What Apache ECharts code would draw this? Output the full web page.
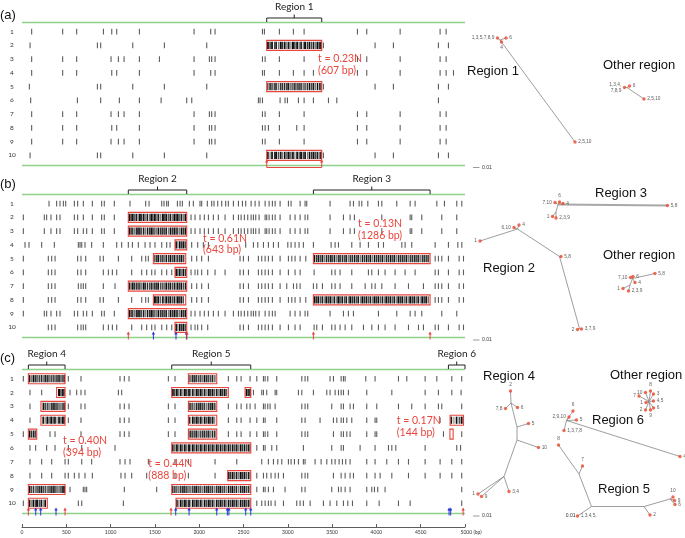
<!DOCTYPE html>
<html><head><meta charset="utf-8">
<script src="https://cdn.jsdelivr.net/npm/echarts@6/dist/echarts.min.js"></script>
<style>html,body{margin:0;padding:0;background:#fff}#c{width:685px;height:538px}</style>
</head><body><div id="c"></div>
<script>
// ---------------- DATA ----------------
const rowLabels = [1,2,3,4,5,6,7,8,9,10];
const scaleTicks = [0,500,1000,1500,2000,2500,3000,3500,4000,4500,5000];

// variant positions (bp) per sequence, panel (a)
const seqA = [
 [109,459,617,919,1013,1069,1325,1942,2130,2179,2714,2736,2905,3063,3184,3786,3891,4268,4719,4787],
 [91,851,888,1250,1607,2085,3402,3985,4192,4700,4813],
 [109,459,617,1005,1088,1152,1325,1551,1942,2115,2141,2179,2714,2744,2905,3184,3786,3891,4268,4719,4787],
 [109,459,617,1013,1069,1325,1942,2130,2179,2714,2736,2905,3063,3184,3289,3786,3891,4268,4719,4787,4870],
 [83,851,888,1250,1607,2085,3402,3985,4192,4700,4813],
 [98,625,888,1099,1325,1570,1859,1916,2668,2687,2714,2913,2969,2996,3120,3184,3289,3459,3553,4700],
 [109,459,617,1005,1088,1152,1325,1942,2115,2141,2179,2714,2744,2905,3184,3786,3891,4268,4719,4787],
 [109,459,617,1013,1069,1325,1942,2115,2141,2179,2714,2744,2781,2905,3101,3184,3786,3891,4268,4719,4787],
 [109,459,617,1005,1088,1152,1325,1942,2115,2141,2179,2714,2744,2905,3184,3786,3891,4268,4719,4787],
 [91,851,888,1250,1607,2085,3402,3985,4192,4700,4813]
];
// panel (b)
const seqB = [
 [305,391,429,467,493,591,628,692,794,899,929,1042,1219,1396,1434,1577,1603,1633,1652,1754,1784,1810,1889,1934,2009,2028,2092,2141,2167,2209,2254,2299,2329,2386,2443,2488,2525,2586,2631,2676,2744,2789,2826,2857,2913,3007,3037,3139,3195,3214,3477,3703,3741,3805,3835,3903,4023,4061,4230,4381,4437,4682,4768,4907,4964],
 [15,252,278,327,391,429,591,628,692,794,899,929,1042,1908,1953,2009,2058,2104,2160,2216,2292,2386,2443,2473,2510,2548,2586,2612,2638,2676,2744,2762,2789,2826,2857,2913,3026,3082,3139,3195,3225,3477,3628,3703,3752,4061,4381,4399,4512,4738,4907],
 [15,252,327,391,429,591,628,692,730,794,899,929,1042,1908,1953,2009,2058,2104,2160,2216,2292,2386,2443,2473,2510,2548,2586,2612,2638,2676,2744,2762,2789,2826,2857,2913,3026,3082,3139,3195,3225,3477,3628,3703,3752,4061,4381,4399,4512,4738,4907],
 [34,79,222,365,636,655,674,711,786,918,1069,1125,1200,1246,1313,1389,1445,1501,1577,1633,1671,1915,1983,2047,2104,2525,2612,2661,2725,2781,2838,2894,3000,3037,3082,3127,3176,3289,3489,3534,3572,3722,3816,3910,4023,4080,4287,4324,4399,4663,4813,4919,4964],
 [15,297,335,373,628,666,719,881,918,1088,1238,1351,1396,1426,1915,1972,2028,2104,2461,2499,2556,2668,2706,2744,2781,2826,2913,3007,3045,3082,3139,3203,4663,4700,4738,4813,4934,4983],
 [15,297,335,373,628,666,719,918,975,1020,1069,1238,1351,1407,1464,1501,1577,1633,1690,1908,1953,1983,2028,2096,2179,2292,2461,2499,2556,2668,2706,2744,2781,2826,2913,3007,3082,3139,3297,3496,3534,3590,3722,3910,3948,4023,4098,4211,4324,4437,4663,4700,4813,4934,4983],
 [15,297,335,373,636,666,692,719,918,1050,1915,1972,2028,2104,2461,2499,2556,2668,2706,2744,2781,2826,2913,2988,3064,3101,3139,3289,3327,3391,3496,3534,3590,3722,3873,3948,3986,4061,4211,4362,4531,4663,4700,4738,4813,4934,4983],
 [15,297,335,373,628,666,719,881,918,1088,1238,1351,1396,1426,1915,1972,2028,2104,2461,2499,2556,2668,2706,2744,2781,2826,2913,3007,3045,3082,3139,3203,4663,4700,4738,4813,4934,4983],
 [15,252,278,327,391,429,591,628,692,730,794,899,929,1042,1908,1953,2009,2058,2104,2160,2216,2292,2386,2443,2473,2510,2548,2586,2612,2638,2676,2744,2789,2826,2857,3026,3082,3139,3195,3225,3477,3628,3684,3741,4023,4230,4381,4437,4512,4738,4907],
 [297,335,373,628,666,692,719,918,975,1020,1069,1238,1351,1407,1464,1501,1577,1633,1690,1908,1953,1983,2028,2096,2461,2499,2556,2668,2706,2744,2781,2826,2913,3007,3082,3139,3297,3327,3391,3496,3534,3590,3647,3722,3854,3948,4023,4098,4211,4362,4475,4531,4663,4700,4813,4934,4983]
];
// panel (c)
const seqC = [
 [15,523,666,1106,1155,1208,1652,1727,2329,2424,2473,2574,2650,2725,2744,2774,2875,3158,3195,3225,3477,3515,3602,3628,3647,3880,3985,4249,4343,4550,4682,4851,4963],
 [90,222,542,617,666,711,1088,1125,2612,2706,2725,2762,2857,2875,3120,3158,3289,3440,3477,3534,3572,3602,3628,3684,3891,4174,4550,4700,4851,4956],
 [90,523,666,711,1106,1155,1208,1652,1727,2329,2424,2473,2537,2574,2631,2725,2744,2774,2800,2857,3158,3195,3225,3496,3602,3628,3703,3741,3891,4004,4249,4399,4550,4700,4738,4963],
 [90,523,666,1106,1155,1208,1652,1727,2329,2424,2473,2574,2650,2725,2744,2875,3158,3195,3364,3515,3553,3602,3628,3666,3722,3891,3985,4004,4719],
 [15,316,373,666,1106,1155,1208,1652,1727,2329,2424,2473,2574,2650,2725,2744,2774,2875,3158,3195,3225,3515,3602,3628,3666,3703,3891,3985,4004,4757,4963],
 [90,154,278,373,523,674,1050,2650,2725,2744,2819,2875,3176,3496,3602,3628,3816,3985,4136,4174,4219,4550,4907,4950],
 [90,222,335,486,523,674,786,1106,1163,1219,1426,1727,1878,2179,2424,2706,2781,2838,2887,2932,3007,3037,3075,3120,3176,3195,3308,3376,3440,3496,3534,3579,3617,3654,3703,3891,3985,4117,4249,4362,4550,4719,4851,4963],
 [90,222,335,486,523,591,643,711,794,1117,1163,1238,1407,1727,1878,2179,2650,2725,2762,2811,2857,2894,2951,3158,3195,3225,3515,3602,3647,3703,3741,3891,3985,4042,4174,4362,4550,4719,4851,4963],
 [542,692,711,730,1155,1520,2650,2725,2744,2781,2838,2969,3158,3195,3496,3572,3602,3647,3703,3891,3948,3978,4015,4098,4963],
 [15,636,674,1144,2650,2706,2744,2781,2811,2857,2951,3101,3139,3176,3252,3402,3477,3553,3628,3677,3730,3891,4031,4249,4381,4963]
];

// dense variant positions inside recombinant regions
const denseA = [2775,2800,2822,2850,2868,2895,2920,2940,2965,2990,3010,3035,3058,3080,3105,3128,3150,3175,3195,3222,3245,3268,3290,3312,3335,3358,3375];
const denseB = [1212,1232,1250,1268,1290,1310,1330,1348,1372,1390,1415,1440,1460,1478,1500,1522,1540,1565,1590,1612,1630,1655,1675,1698,1720,1740,1758,1780,1800,1822,1845,
 3302,3325,3345,3368,3390,3412,3435,3458,3480,3500,3525,3548,3570,3590,3615,3640,3660,3685,3705,3728,3752,3775,3795,3820,3842,3865,3888,3910,3932,3955,3978,4000,4022,4045,4068,4090,4112,4135,4158,4180,4202,4225,4248,4270,4292,4315,4338,4360,4382,4405,4428,4450,4472,4495,4518,4540,4562,4585];
const denseC = [85,105,128,150,170,195,218,240,262,285,305,330,352,372,395,418,440,462,478,
 1702,1725,1748,1770,1792,1815,1838,1860,1885,1905,1928,1950,1972,1995,2018,2040,2062,2085,2108,2130,2152,2175,2198,2220,2242,2265,2288,2310,2332,2355,2378,2400,2422,2445,2468,2490,2512,2535,2558,2575,
 4845,4875,4905,4935,4962];

// boxes: [start bp, end bp, sequence, hollow]
const boxesA = [[2762,3383,2,0],[2762,3383,5,0],[2762,3383,10,0]];
const boxesB = [[1200,1859,2,0],[1200,1859,3,0],[1727,1859,4,0],[1483,1848,5,0],[1727,1859,6,0],[1200,1859,7,0],[1483,1848,8,0],[1200,1859,9,0],[1727,1859,10,0],[3289,4606,5,0],[3289,4606,8,0]];
const boxesC = [[72,486,1,0],[1878,2198,1,0],[391,486,2,0],[1690,2329,2,0],[2518,2582,2,0],[214,486,3,0],[1878,2198,3,0],[214,486,4,0],[1878,2198,4,0],[4832,4983,4,0],[72,166,5,0],[1878,2198,5,0],[4830,4866,5,1],[1690,2582,6,0],[2322,2582,8,0],[72,486,9,0],[1690,2582,9,0],[72,286,10,0],[1738,2582,10,0]];

// region brackets
const bracketsA = [['Region 1',2762,3383]];
const bracketsB = [['Region 2',1200,1859],['Region 3',3289,4606]];
const bracketsC = [['Region 4',72,486],['Region 5',1690,2582],['Region 6',4813,5000]];

// breakpoint arrows [bp, 0=red 1=blue]
const arrowsA = [[2762,0],[3383,0]];
const linksA = [[2762,3383]];
const arrowsB = [[1200,0],[1483,1],[1738,1],[1856,1],[1862,0],[3289,0],[4606,0]];
const arrowsC = [[72,0],[155,1],[211,1],[384,1],[486,0],[1682,0],[1735,1],[1886,1],[2198,1],[2318,1],[2335,1],[2525,1],[2582,1],[4820,1],[4838,1],[4979,0]];

// annotations [text, bp, row]
const notesA = [['t = 0.23N',3342,2.95],['(607 bp)',3342,3.8]];
const notesB = [['t = 0.61N',2043,3.57],['(643 bp)',2043,4.37],['t = 0.13N',3793,2.48],['(1286 bp)',3793,3.36]];
const notesC = [['t = 0.40N',463,5.47],['(394 bp)',463,6.34],['t = 0.44N',1426,7.14],['(888 bp)',1426,8.01],['t = 0.17N',4230,4.0],['(144 bp)',4230,4.88]];

// trees: nodes [id, x, y, label, labelPosition] in tree layout units
const treeNodes = [
 ['a_j',60,40,'',''],['a_1',57.5,38,'1,3,5,7,8,9','left'],['a_6',66,38,'6','right'],['a_4',61.5,42,'4','bottom'],['a_2',135,142,'2,5,10','right'],
 ['oa_j',187,87.5,'',''],['oa_1',184.5,87.5,'1,3,4,\n7,8,9','left'],['oa_6',189.5,86,'6','right'],['oa_2',204,99,'2,5,10','right'],
 ['r3_j',118,204.5,'',''],['r3_710',115,202.5,'7,10','left'],['r3_6',119.5,202,'6','top'],['r3_4',123,203.5,'4','right'],['r3_58',227.5,205.5,'5,8','right'],['r3_k',116,212,'',''],['r3_1',112.5,216.5,'1','left'],['r3_239',116,218,'2,3,9','right'],
 ['r2_1',40,241,'1','left'],['r2_j',77.5,229,'',''],['r2_610',74,227.5,'6,10','left'],['r2_4',79,225,'4','right'],['r2_k',119.5,256.5,'',''],['r2_58',121,256.5,'5,8','right'],['r2_m',139.5,328.5,'',''],['r2_2',137.5,329.5,'2','left'],['r2_379',141.5,329,'3,7,9','right'],
 ['ob_j',192.5,278.5,'',''],['ob_710',190.5,277.5,'7,10','left'],['ob_6',193,276.5,'6','right'],['ob_58',215,273.5,'5,8','right'],['ob_4',195,282.5,'4','right'],['ob_k',190,285,'',''],['ob_1',183,288.5,'1','left'],['ob_239',188.5,291,'2,3,9','right'],
 ['r4_2',70.5,391,'2','top'],['r4_a',71,403,'',''],['r4_78',65.5,408.5,'7,8','left'],['r4_6',77.5,407.5,'6','right'],['r4_b',77,427,'',''],['r4_5',88.5,423.5,'5','right'],['r4_c',77,440,'',''],['r4_10',98.5,447.5,'10','right'],['r4_d',64,476.5,'',''],['r4_34',69,491.5,'3,4','right'],['r4_1',38,494,'1','left'],['r4_9',41.5,496.5,'9','right'],
 ['oc_j',209,401.5,'',''],['oc_8',210.5,391,'8','top'],['oc_3',213.5,394,'3','right'],['oc_10',205.5,392.5,'10','left'],['oc_7',199,396,'7','left'],['oc_45',213.5,401,'4,5','right'],['oc_1',206,402.5,'1','left'],['oc_6',213.5,408,'6','right'],['oc_2',205.5,410,'2','left'],['oc_9',210.5,410,'9','bottom'],
 ['r6_j',126.5,420.5,'',''],['r6_2910',129,417,'2,9,10','left'],['r6_6',133,411,'6','top'],['r6_5',136.5,420,'5','right'],['r6_1378',124,430.5,'1,3,7,8','right'],['r6_4',240,456.5,'4','right'],
 ['r5_8',118.5,445,'8','top'],['r5_7',142.5,466,'7','top'],['r5_e',139,474,'',''],['r5_f',151.5,506.5,'',''],['r5_1345',137.5,516,'1,3,4,5,','right'],['r5_g',204,506.5,'',''],['r5_2',210,515,'2','right'],['r5_h',230,499,'',''],['r5_10',233,497,'10','top'],['r5_9',234.5,500.5,'9','right'],['r5_6',235,504.5,'6','right']
];
const treeEdges = [
 ['a_j','a_1'],['a_j','a_6'],['a_j','a_4'],['a_j','a_2'],
 ['oa_j','oa_1'],['oa_j','oa_6'],['oa_j','oa_2'],
 ['r3_j','r3_710'],['r3_j','r3_6'],['r3_j','r3_4'],['r3_j','r3_58'],['r3_j','r3_k'],['r3_k','r3_1'],['r3_k','r3_239'],
 ['r2_1','r2_j'],['r2_j','r2_610'],['r2_j','r2_4'],['r2_j','r2_k'],['r2_k','r2_58'],['r2_k','r2_m'],['r2_m','r2_2'],['r2_m','r2_379'],
 ['ob_j','ob_710'],['ob_j','ob_6'],['ob_j','ob_58'],['ob_j','ob_4'],['ob_j','ob_k'],['ob_k','ob_1'],['ob_k','ob_239'],
 ['r4_2','r4_a'],['r4_a','r4_78'],['r4_a','r4_6'],['r4_a','r4_b'],['r4_b','r4_5'],['r4_b','r4_c'],['r4_c','r4_10'],['r4_c','r4_d'],['r4_d','r4_34'],['r4_d','r4_1'],['r4_d','r4_9'],
 ['oc_j','oc_8'],['oc_j','oc_3'],['oc_j','oc_10'],['oc_j','oc_7'],['oc_j','oc_45'],['oc_j','oc_1'],['oc_j','oc_6'],['oc_j','oc_2'],['oc_j','oc_9'],
 ['r6_j','r6_2910'],['r6_j','r6_6'],['r6_j','r6_5'],['r6_j','r6_1378'],['r6_j','r6_4'],
 ['r5_8','r5_e'],['r5_7','r5_e'],['r5_e','r5_f'],['r5_f','r5_1345'],['r5_f','r5_g'],['r5_g','r5_2'],['r5_g','r5_h'],['r5_h','r5_10'],['r5_h','r5_9'],['r5_h','r5_6']
];
const treeTitles = [['Region 1',27,71],['Other region',163,65],['Region 3',155,193],['Region 2',43,268],['Other region',163,255.5],['Region 4',43,376.5],['Other region',170,375.5],['Region 6',152,420.5],['Region 5',158,489]];
const treeScaleBars = [[33,167.5],[33,340],[33,516]];
const treeSmallTexts = [['0.01',135.5,516]];

// ---------------- CHART ----------------
const RED = '#e8453c', BLUE = '#2636d6', GREEN = '#8fd08a', NODE = '#e9482d';
const LEFTFONT = 'Lato, "Liberation Sans", sans-serif';
const TREEFONT = '"Liberation Sans", Arial, sans-serif';
const DENSE_W = [1.7, 1.2, 2.0, 1.4, 1.8, 1.1];
const DENSE_C = ['#111', '#4a4a4a', '#1a1a1a', '#7a7a7a', '#0c0c0c', '#333'];
const chart = echarts.init(document.getElementById('c'));

const panels = [
 {seq:seqA, boxes:boxesA, dense:denseA, brackets:bracketsA, arrows:arrowsA, links:linksA, notes:notesA, top:22, h:143},
 {seq:seqB, boxes:boxesB, dense:denseB, brackets:bracketsB, arrows:arrowsB, links:[], notes:notesB, top:194, h:143},
 {seq:seqC, boxes:boxesC, dense:denseC, brackets:bracketsC, arrows:arrowsC, links:[], notes:notesC, top:369, h:144}
];
const grid = [], xAxis = [], yAxis = [], series = [];
const YMIN = 0.3, YMAX = 10.7;

panels.forEach((P, i) => {
  grid.push({left:22, width:443, top:P.top, height:P.h});
  const xb = xAxis.length;
  xAxis.push({gridIndex:i, type:'value', min:0, max:5000, position:'bottom', show:false});
  yAxis.push({gridIndex:i, type:'value', min:YMIN, max:YMAX, inverse:true,
    axisLine:{show:false}, axisTick:{show:false}, splitLine:{show:false},
    axisLabel:{show:true, customValues:rowLabels, fontSize:6.5, color:'#333', margin:10, align:'center', fontFamily:LEFTFONT}});
  const axisRef = {xAxisIndex:xb, yAxisIndex:i};

  // green frame lines (top and bottom of panel)
  series.push(Object.assign({type:'custom', data:[[0,5000,YMIN],[0,5000,YMAX]], silent:true, z:10, clip:false,
    renderItem:(params, api) => {
      const a = api.coord([api.value(0), api.value(2)]), b = api.coord([api.value(1), api.value(2)]);
      return {type:'rect', shape:{x:a[0], y:a[1]-0.2, width:b[0]-a[0], height:1.4}, style:{fill:GREEN}};
    }}, axisRef));

  // variant ticks
  const tickData = [];
  P.seq.forEach((row, r) => row.forEach(v => tickData.push([v, r+1])));
  series.push(Object.assign({type:'custom', data:tickData, silent:true, z:2,
    renderItem:(params, api) => {
      const p = api.coord([api.value(0), api.value(1)]);
      return {type:'rect', shape:{x:p[0]-0.55, y:p[1]-2.8, width:1.1, height:5.6}, style:{fill:'#5c5c5c'}};
    }}, axisRef));

  // recombinant boxes with dense variants
  series.push(Object.assign({type:'custom', data:P.boxes, silent:true, z:3,
    renderItem:(params, api) => {
      const x1 = api.value(0), x2 = api.value(1), r = api.value(2), hollow = api.value(3);
      const p1 = api.coord([x1, r]), p2 = api.coord([x2, r]);
      const ch = [{type:'rect', shape:{x:p1[0], y:p1[1]-5, width:p2[0]-p1[0], height:10}, style:{fill:'#fff'}}];
      if (!hollow) {
        P.dense.filter(d => d > x1 + 5 && d < x2 - 5).forEach((d, k) => {
          const p = api.coord([d, r]);
          const w = DENSE_W[(k + r) % DENSE_W.length];
          ch.push({type:'rect', shape:{x:p[0]-w/2, y:p1[1]-3.6, width:w, height:7.2}, style:{fill:DENSE_C[(k + 2*r) % DENSE_C.length]}});
        });
      }
      ch.push({type:'rect', shape:{x:p1[0], y:p1[1]-5, width:p2[0]-p1[0], height:10}, style:{fill:'none', stroke:RED, lineWidth:1.1}});
      return {type:'group', children:ch};
    }}, axisRef));

  // region brackets
  series.push(Object.assign({type:'custom', data:P.brackets.map(b => [b[1], b[2]]), silent:true, z:11, clip:false,
    renderItem:(params, api) => {
      const a = api.coord([api.value(0), YMIN]), b = api.coord([api.value(1), YMIN]);
      const y0 = a[1], xm = (a[0]+b[0])/2;
      return {type:'group', children:[
        {type:'polyline', shape:{points:[[a[0],y0],[a[0],y0-4],[b[0],y0-4],[b[0],y0]]}, style:{stroke:'#222', lineWidth:1, fill:null}},
        {type:'line', shape:{x1:xm, y1:y0-4, x2:xm, y2:y0-7.5}, style:{stroke:'#222', lineWidth:1}},
        {type:'text', style:{text:P.brackets[params.dataIndex][0], x:xm, y:y0-15.5, textAlign:'center', textVerticalAlign:'middle', font:'10px '+LEFTFONT, fill:'#222'}}
      ]};
    }}, axisRef));

  // breakpoint arrows
  series.push(Object.assign({type:'custom', data:P.arrows, silent:true, z:12, clip:false,
    renderItem:(params, api) => {
      const p = api.coord([api.value(0), YMAX]);
      const col = api.value(1) === 1 ? BLUE : RED;
      const x = p[0], y = p[1];
      return {type:'group', children:[
        {type:'line', shape:{x1:x, y1:y+2.5, x2:x, y2:y-3}, style:{stroke:col, lineWidth:1}},
        {type:'polygon', shape:{points:[[x,y-5.5],[x-1.7,y-2.5],[x+1.7,y-2.5]]}, style:{fill:col}}
      ]};
    }}, axisRef));
  if (P.links.length) {
    series.push(Object.assign({type:'custom', data:P.links, silent:true, z:12, clip:false,
      renderItem:(params, api) => {
        const a = api.coord([api.value(0), YMAX]), b = api.coord([api.value(1), YMAX]);
        return {type:'line', shape:{x1:a[0], y1:a[1]+2.5, x2:b[0], y2:b[1]+2.5}, style:{stroke:RED, lineWidth:1}};
      }}, axisRef));
  }

  // red annotations
  series.push(Object.assign({type:'custom', data:P.notes.map(n => [n[1], n[2]]), silent:true, z:13, clip:false,
    renderItem:(params, api) => {
      const p = api.coord([api.value(0), api.value(1)]);
      return {type:'text', style:{text:P.notes[params.dataIndex][0], x:p[0], y:p[1], textAlign:'left', textVerticalAlign:'middle', font:'10.5px '+LEFTFONT, fill:RED}};
    }}, axisRef));
});

// bottom bp scale axis (under panel c)
xAxis.push({gridIndex:2, type:'value', min:0, max:5000, interval:500, position:'bottom', offset:14,
  axisLine:{show:true, onZero:false, lineStyle:{color:'#333', width:0.8}},
  axisTick:{show:true, inside:true, length:3, lineStyle:{color:'#333', width:0.8}},
  splitLine:{show:false},
  axisLabel:{show:true, fontSize:5, color:'#333', margin:3, fontFamily:LEFTFONT,
    customValues:scaleTicks,
    formatter:v => v === 5000 ? '{p|}5000 (bp)' : String(v),
    rich:{p:{width:12}}}});

// tree area
const TG = grid.length;
grid.push({left:440, top:0, width:245, height:538});
const txi = xAxis.length;
xAxis.push({gridIndex:TG, type:'value', min:0, max:245, show:false});
yAxis.push({gridIndex:TG, type:'value', min:0, max:538, inverse:true, show:false});
const tref = {xAxisIndex:txi, yAxisIndex:TG};
const nodeMap = {};
treeNodes.forEach(n => nodeMap[n[0]] = n);

series.push(Object.assign({type:'custom', silent:true, z:7, clip:false,
  data:treeEdges.map(e => [nodeMap[e[0]][1], nodeMap[e[0]][2], nodeMap[e[1]][1], nodeMap[e[1]][2]]),
  renderItem:(params, api) => {
    const a = api.coord([api.value(0), api.value(1)]), b = api.coord([api.value(2), api.value(3)]);
    const thick = treeEdges[params.dataIndex][1] === 'r3_58';
    return {type:'line', shape:{x1:a[0], y1:a[1], x2:b[0], y2:b[1]}, style:{stroke: thick ? '#a8a8a8' : '#858585', lineWidth: thick ? 2 : 0.8}};
  }}, tref));

series.push(Object.assign({type:'scatter', silent:true, z:8, symbol:'circle', symbolSize:3.4,
  itemStyle:{color:NODE},
  label:{show:true, formatter:'{b}', fontSize:4.8, color:'#333', distance:1.5, fontFamily:TREEFONT, lineHeight:5.5},
  data:treeNodes.filter(n => n[3] !== '').map(n => ({name:n[3], value:[n[1], n[2]], label:{position:n[4]}}))}, tref));

series.push(Object.assign({type:'custom', silent:true, z:8, clip:false, data:treeTitles.map(t => [t[1], t[2]]),
  renderItem:(params, api) => {
    const p = api.coord([api.value(0), api.value(1)]);
    return {type:'text', style:{text:treeTitles[params.dataIndex][0], x:p[0], y:p[1], textAlign:'left', textVerticalAlign:'middle', font:'13px '+TREEFONT, fill:'#111'}};
  }}, tref));

series.push(Object.assign({type:'custom', silent:true, z:8, clip:false, data:treeScaleBars,
  renderItem:(params, api) => {
    const a = api.coord([api.value(0), api.value(1)]), b = api.coord([api.value(0)+6.5, api.value(1)]);
    return {type:'group', children:[
      {type:'line', shape:{x1:a[0], y1:a[1], x2:b[0], y2:b[1]}, style:{stroke:'#999', lineWidth:1}},
      {type:'text', style:{text:'0.01', x:b[0]+2.5, y:b[1], textAlign:'left', textVerticalAlign:'middle', font:'5px '+TREEFONT, fill:'#333'}}
    ]};
  }}, tref));

series.push(Object.assign({type:'custom', silent:true, z:8, clip:false, data:treeSmallTexts.map(t => [t[1], t[2]]),
  renderItem:(params, api) => {
    const p = api.coord([api.value(0), api.value(1)]);
    return {type:'text', style:{text:treeSmallTexts[params.dataIndex][0], x:p[0], y:p[1], textAlign:'right', textVerticalAlign:'middle', font:'5px '+TREEFONT, fill:'#333'}};
  }}, tref));

chart.setOption({
  animation:false,
  backgroundColor:'#fff',
  grid, xAxis, yAxis, series,
  graphic:[
    {type:'text', left:0, top:9, style:{text:'(a)', font:'13px '+TREEFONT, fill:'#111'}},
    {type:'text', left:0, top:178, style:{text:'(b)', font:'13px '+TREEFONT, fill:'#111'}},
    {type:'text', left:0, top:352, style:{text:'(c)', font:'13px '+TREEFONT, fill:'#111'}}
  ]
});
</script>
</body></html>
